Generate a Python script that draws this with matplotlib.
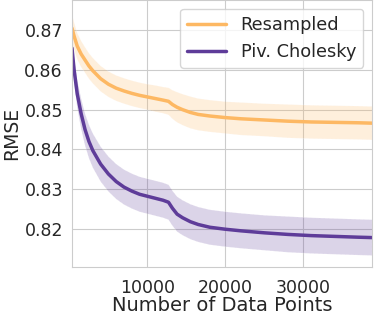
import matplotlib
matplotlib.use("Agg")
import matplotlib.pyplot as plt
import seaborn as sns
import numpy as np

# numero de pontos de dados
n_pts = [330, 600, 1000, 1500, 2000, 2500, 3000, 4000, 5000, 6000, 7000, 8000, 9000,
         10000, 11000, 12000, 12700, 13200, 13800, 14500, 15500, 16500, 18000, 20000,
         22000, 25000, 28000, 31000, 34000, 37000, 38800]

# Resampled
res_mean = [0.8705, 0.8685, 0.8660, 0.8640, 0.8625, 0.8610, 0.8598, 0.8578, 0.8564, 0.8554,
            0.8547, 0.8541, 0.8536, 0.8532, 0.8528, 0.8524, 0.8521, 0.8513, 0.8506, 0.8500,
            0.8493, 0.8488, 0.8484, 0.8480, 0.8477, 0.8474, 0.8471, 0.8469, 0.8468, 0.8467,
            0.8466]
res_err = [0.0035, 0.0034, 0.0033, 0.0033, 0.0032, 0.0032, 0.0032, 0.0032, 0.0032, 0.0032,
           0.0032, 0.0032, 0.0032, 0.0032, 0.0033, 0.0033, 0.0034, 0.0036, 0.0038, 0.0039,
           0.0040, 0.0040, 0.0040, 0.0040, 0.0041, 0.0041, 0.0042, 0.0042, 0.0042, 0.0042,
           0.0042]

# Piv. Cholesky
chol_mean = [0.8655, 0.8600, 0.8540, 0.8490, 0.8450, 0.8420, 0.8397, 0.8363, 0.8338, 0.8319,
             0.8305, 0.8295, 0.8287, 0.8282, 0.8277, 0.8272, 0.8267, 0.8252, 0.8237, 0.8228,
             0.8218, 0.8211, 0.8204, 0.8199, 0.8195, 0.8190, 0.8186, 0.8183, 0.8181, 0.8179,
             0.8178]
chol_err = [0.0025, 0.0030, 0.0035, 0.0038, 0.0040, 0.0042, 0.0043, 0.0044, 0.0044, 0.0044,
            0.0044, 0.0044, 0.0044, 0.0044, 0.0044, 0.0044, 0.0044, 0.0044, 0.0044, 0.0044,
            0.0044, 0.0044, 0.0044, 0.0044, 0.0044, 0.0044, 0.0045, 0.0045, 0.0045, 0.0045,
            0.0045]

cor_res = '#fdb863'
cor_chol = '#5e3c99'

sns.set_style('whitegrid')
plt.rcParams['font.family'] = ['DejaVu Sans']

fig = plt.figure(figsize=(3.74, 3.14), dpi=100)
ax = fig.add_axes([0.1925, 0.1497, 0.8025, 0.8503])

x = np.array(n_pts)
rm = np.array(res_mean); re = np.array(res_err)
cm = np.array(chol_mean); ce = np.array(chol_err)

ax.fill_between(x, rm - re, rm + re, color=cor_res, alpha=0.22, edgecolor='white', lw=0.6, linestyle='--')
ax.fill_between(x, cm - ce, cm + ce, color=cor_chol, alpha=0.22, edgecolor='white', lw=0.6, linestyle='--')
ax.plot(x, rm, color=cor_res, lw=2.5, label='Resampled')
ax.plot(x, cm, color=cor_chol, lw=2.5, label='Piv. Cholesky')

ax.set_xlim(330, 38800)
ax.set_ylim(0.8104, 0.8776)
ax.set_xticks([10000, 20000, 30000])
ax.set_yticks([0.82, 0.83, 0.84, 0.85, 0.86, 0.87])
ax.tick_params(labelsize=12.5, colors='#262626', length=0)
ax.tick_params(axis='x', pad=9)
ax.tick_params(axis='y', pad=6.5)
ax.set_xlabel('Number of Data Points', fontsize=14, color='#262626', labelpad=-1)
ax.set_ylabel('RMSE', fontsize=13.5, color='#262626', labelpad=2)
for sp in ax.spines.values():
    sp.set_color('#cccccc')

ax.legend(loc='upper right', fontsize=12.8, frameon=True, borderaxespad=0.5, handlelength=2.2)

fig.savefig('out.png', dpi=100)
